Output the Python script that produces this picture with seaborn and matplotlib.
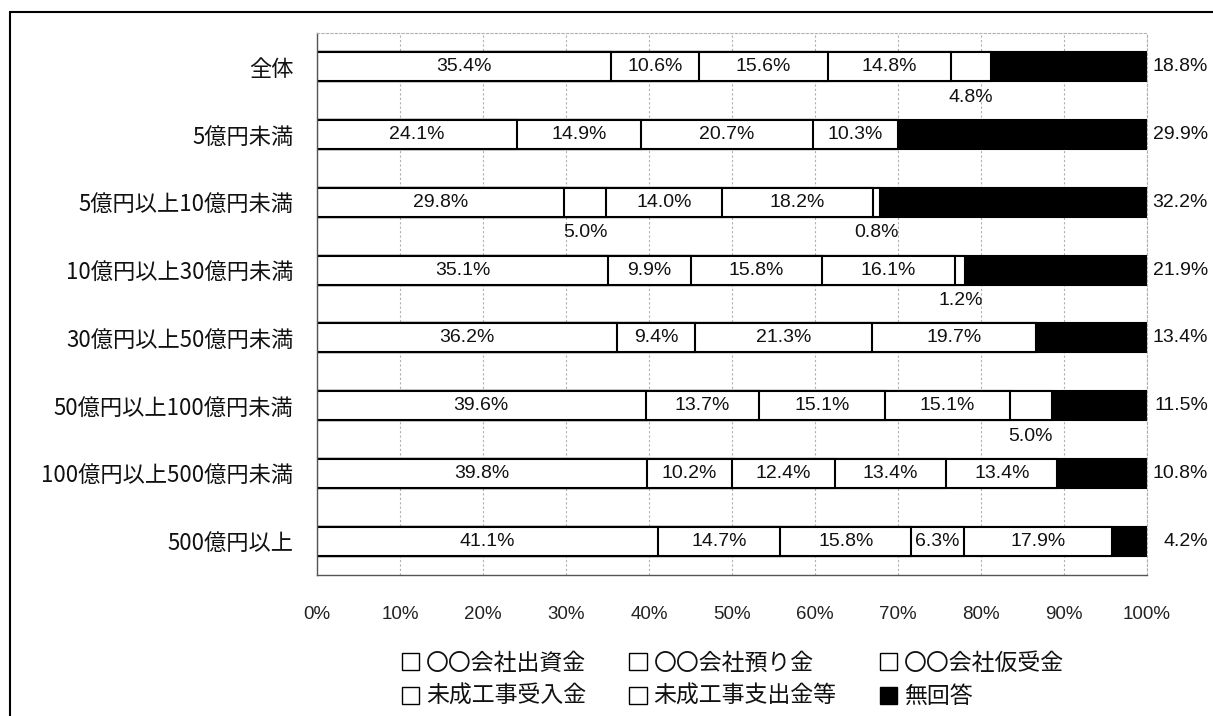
import matplotlib.pyplot as plt
from matplotlib.patches import Patch
from matplotlib.lines import Line2D
import matplotlib.transforms as mtransforms
import seaborn as sns
import pandas as pd

sns.set_theme(style="white")
plt.rcParams['font.family'] = ['Noto Sans CJK JP', 'DejaVu Sans']

# ---- データ ----
categories = ["全体", "5億円未満", "5億円以上10億円未満", "10億円以上30億円未満",
              "30億円以上50億円未満", "50億円以上100億円未満", "100億円以上500億円未満",
              "500億円以上"]
series_names = ["〇〇会社出資金", "〇〇会社預り金", "〇〇会社仮受金",
                "未成工事受入金", "未成工事支出金等", "無回答"]
shusshi = [35.4, 24.1, 29.8, 35.1, 36.2, 39.6, 39.8, 41.1]
azukari = [10.6, 14.9, 5.0, 9.9, 9.4, 13.7, 10.2, 14.7]
kariuke = [15.6, 20.7, 14.0, 15.8, 21.3, 15.1, 12.4, 15.8]
ukeire = [14.8, 10.3, 18.2, 16.1, 19.7, 15.1, 13.4, 6.3]
shishutsu = [4.8, 0.0, 0.8, 1.2, 0.0, 5.0, 13.4, 17.9]
mukaitou = [18.8, 29.9, 32.2, 21.9, 13.4, 11.5, 10.8, 4.2]

series = [shusshi, azukari, kariuke, ukeire, shishutsu, mukaitou]
colors = ["white"] * 5 + ["black"]

num_font = ['Liberation Sans', 'DejaVu Sans']

df = pd.DataFrame({name: vals for name, vals in zip(series_names, series)})
df["category"] = categories
cum = df[series_names].cumsum(axis=1)

fig = plt.figure(figsize=(12.13, 7.16), dpi=100)
ax = fig.add_axes([317 / 1213, 1 - 575 / 716, 830 / 1213, 542 / 716])

# 積み上げ: 累積値を後ろから重ねて描く
for k in range(len(series_names) - 1, -1, -1):
    sns.barplot(x=cum[series_names[k]], y=df["category"], orient="h",
                color=colors[k], saturation=1, edgecolor="black",
                linewidth=1.5, width=0.43, ax=ax)

# ラベル
for i in range(len(categories)):
    left = 0
    for j in range(5):
        v = series[j][i]
        if v >= 6:
            ax.text(left + v / 2, i, f"{v:.1f}%", ha="center", va="center",
                    fontsize=14, family=num_font, color="#111111")
        elif v > 0:
            ax.text(left + v / 2, i + 0.45, f"{v:.1f}%", ha="center",
                    va="center", fontsize=14, family=num_font, color="#111111")
        left += v

trans = mtransforms.blended_transform_factory(ax.transAxes, ax.transData)
for i, v in enumerate(mukaitou):
    ax.text(1.0735, i, f"{v:.1f}%", ha="right", va="center", fontsize=14,
            family=num_font, color="#111111", transform=trans)

ax.set_xlim(0, 100)
ax.set_xticks(range(0, 101, 10))
ax.set_xticklabels([f"{t}%" for t in range(0, 101, 10)], fontsize=13.5,
                   family=num_font, color="#222222")
ax.tick_params(axis="x", length=0, pad=22)
ax.tick_params(axis="y", length=0, pad=17, labelsize=16, labelcolor="#111111")
ax.set_xlabel("")
ax.set_ylabel("")
ax.xaxis.grid(True, linestyle=(0, (2, 2)), color="#b0b0b0", lw=0.8)
ax.set_axisbelow(True)

for s in ["left", "bottom"]:
    ax.spines[s].set_color("#555555")
    ax.spines[s].set_linewidth(1.0)
for s in ["top", "right"]:
    ax.spines[s].set_color("#b0b0b0")
    ax.spines[s].set_linestyle((0, (2, 2)))
    ax.spines[s].set_linewidth(0.8)

# 凡例 (列優先で並ぶので順序を入れ替え)
order = [0, 3, 1, 4, 2, 5]
handles = [Patch(facecolor=colors[k], edgecolor="black", linewidth=1.0) for k in order]
labels = [series_names[k] for k in order]
fig.legend(handles, labels, ncol=3, loc="center",
           bbox_to_anchor=(733 / 1213, 1 - 680 / 716), frameon=False,
           fontsize=16.5, handlelength=0.75, handleheight=0.75,
           handletextpad=0.3, columnspacing=1.9, labelspacing=0.45,
           labelcolor="#111111")

# 外枠 (上と左)
fig.add_artist(Line2D([10 / 1213, 1], [1 - 12 / 716] * 2, color="black",
                      lw=1.5, transform=fig.transFigure))
fig.add_artist(Line2D([10 / 1213] * 2, [0, 1 - 12 / 716], color="black",
                      lw=1.5, transform=fig.transFigure))

fig.savefig("out.png", dpi=100)
